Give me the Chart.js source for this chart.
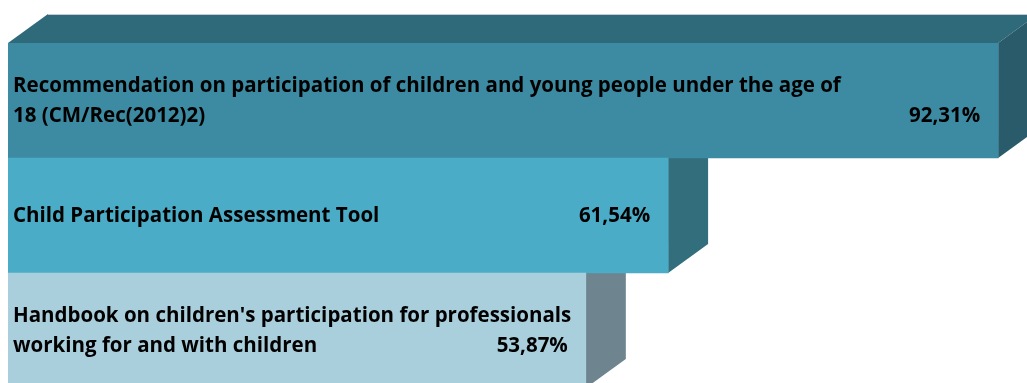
<!DOCTYPE html>
<html>
<head>
<meta charset="utf-8">
<script src="https://cdn.jsdelivr.net/npm/chart.js@4"></script>
<style>
    html, body { margin: 0; padding: 0; background: #fff; overflow: hidden; }
    #wrap { width: 1027px; height: 390px; position: relative; }
</style>
</head>
<body>
<div id="wrap"><canvas id="chart"></canvas></div>
<script>
const categories = [
    ["Recommendation on participation of children and young people under the age of", "18 (CM/Rec(2012)2)"],
    ["Child Participation Assessment Tool"],
    ["Handbook on children's participation for professionals", "working for and with children"]
];
const values = [92.31, 61.54, 53.87];
const frontColors = ["#3c8ba2", "#4aacc6", "#a9cfdd"];
const topColors = ["#2f6a7a", "#3b8ca3", "#8fb5c3"];
const sideColors = ["#295b6a", "#336e7d", "#6e8590"];

const DX = 40, DY = 29;

// 3d faces, drawn under the front of the bars
const depthFaces = {
    id: "depthFaces",
    beforeDatasetsDraw(chart) {
        const ctx = chart.ctx;
        const meta = chart.getDatasetMeta(0);
        ctx.save();
        meta.data.forEach((bar, i) => {
            const p = bar.getProps(["x", "y", "base", "height"], true);
            const top = p.y - p.height / 2;
            const bot = p.y + p.height / 2;
            ctx.fillStyle = topColors[i];
            ctx.beginPath();
            ctx.moveTo(p.base, top);
            ctx.lineTo(p.base + DX, top - DY);
            ctx.lineTo(p.x + DX, top - DY);
            ctx.lineTo(p.x, top);
            ctx.closePath();
            ctx.fill();
            ctx.strokeStyle = "#c3cdd1";
            ctx.lineWidth = 1;
            ctx.beginPath();
            ctx.moveTo(p.base + DX, top - DY + 0.5);
            ctx.lineTo(p.x + DX, top - DY + 0.5);
            ctx.stroke();
            ctx.fillStyle = sideColors[i];
            ctx.beginPath();
            ctx.moveTo(p.x, top);
            ctx.lineTo(p.x + DX, top - DY);
            ctx.lineTo(p.x + DX, bot - DY);
            ctx.lineTo(p.x, bot);
            ctx.closePath();
            ctx.fill();
        });
        ctx.restore();
    }
};

// category text and value inside each bar
const barText = {
    id: "barText",
    afterDatasetsDraw(chart) {
        const ctx = chart.ctx;
        const meta = chart.getDatasetMeta(0);
        ctx.save();
        ctx.fillStyle = "#000";
        ctx.font = "bold 20.5px 'Open Sans'";
        ctx.textBaseline = "middle";
        meta.data.forEach((bar, i) => {
            const p = bar.getProps(["x", "y", "base"], true);
            const lines = categories[i];
            const lineH = 30;
            const y0 = p.y + 1 - (lines.length - 1) * lineH / 2;
            ctx.textAlign = "left";
            lines.forEach((t, k) => ctx.fillText(t, p.base + 5, y0 + k * lineH));
            ctx.textAlign = "right";
            const v = values[i].toFixed(2).replace(".", ",") + "%";
            ctx.fillText(v, p.x - 18, y0 + (lines.length - 1) * lineH);
        });
        ctx.restore();
    }
};

new Chart(document.getElementById("chart"), {
    type: "bar",
    data: {
        labels: categories,
        datasets: [{
            data: values,
            backgroundColor: frontColors,
            borderWidth: 0,
            categoryPercentage: 1,
            barPercentage: 1
        }]
    },
    options: {
        indexAxis: "y",
        responsive: true,
        maintainAspectRatio: false,
        animation: false,
        layout: { padding: { left: 8, top: 43, right: 0, bottom: 2 } },
        scales: {
            x: { display: false, min: 0, max: 95 },
            y: { display: false }
        },
        plugins: {
            legend: { display: false },
            tooltip: { enabled: false }
        }
    },
    plugins: [depthFaces, barText]
});
</script>
</body>
</html>
